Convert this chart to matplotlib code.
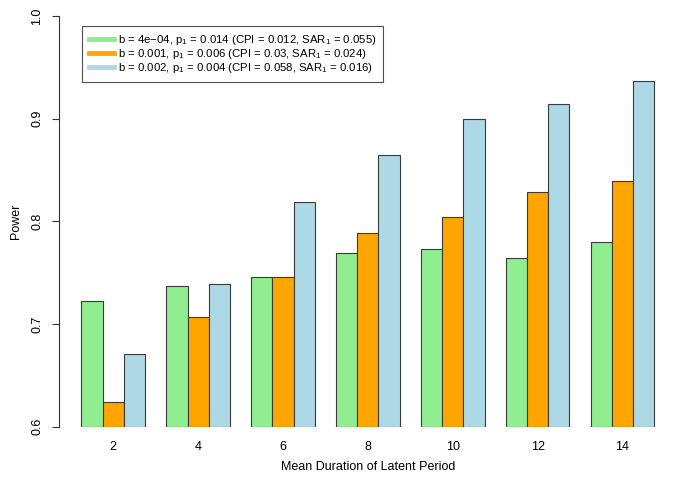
import matplotlib
matplotlib.use("Agg")
import matplotlib.pyplot as plt
from matplotlib.lines import Line2D
import numpy as np

plt.rcParams['font.family'] = ['Liberation Sans', 'DejaVu Sans']
plt.rcParams['mathtext.fontset'] = 'custom'
plt.rcParams['mathtext.rm'] = 'Liberation Sans'
plt.rcParams['mathtext.it'] = 'Liberation Sans'

durations = ["2", "4", "6", "8", "10", "12", "14"]
power_b1 = [0.722, 0.737, 0.746, 0.769, 0.773, 0.764, 0.780]
power_b2 = [0.624, 0.707, 0.746, 0.789, 0.804, 0.829, 0.839]
power_b3 = [0.671, 0.739, 0.819, 0.865, 0.900, 0.914, 0.937]
series = [power_b1, power_b2, power_b3]
labels = [
    r"b = 4e$-$04, p$_1$ = 0.014 (CPI = 0.012, SAR$_1$ = 0.055)",
    r"b = 0.001, p$_1$ = 0.006 (CPI = 0.03, SAR$_1$ = 0.024)",
    r"b = 0.002, p$_1$ = 0.004 (CPI = 0.058, SAR$_1$ = 0.016)",
]
colors = ["#90EE90", "#FFA500", "#ADD8E6"]

W, H = 678, 480
fig = plt.figure(figsize=(W / 100, H / 100), dpi=100)
ax = fig.add_axes([58.5 / W, 53.3 / H, (677.2 - 58.5) / W, (426.7 - 16) / H])

n = len(durations)
group_left = 1 + 4 * np.arange(n)
for i, vals in enumerate(series):
    ax.bar(group_left + i, np.array(vals) - 0.6, bottom=0.6, width=1.0, align='edge',
           color=colors[i], edgecolor='#3a3a3a', linewidth=0.8)

ax.set_xlim(-0.08, 29.08)
ax.set_ylim(0.6, 1.0)
for s in ['top', 'right', 'bottom']:
    ax.spines[s].set_visible(False)
ax.spines['left'].set_color('#333333')
ax.spines['left'].set_linewidth(0.8)
ax.set_yticks([0.6, 0.7, 0.8, 0.9, 1.0])
ax.set_yticklabels(["0.6", "0.7", "0.8", "0.9", "1.0"], rotation=90, va='center')
ax.tick_params(axis='y', length=5, width=0.8, color='#333333', labelsize=9, pad=6)
ax.set_xticks(group_left + 1.5)
ax.set_xticklabels(durations)
ax.tick_params(axis='x', length=0, labelsize=9, pad=10.5)
ax.set_xlabel("Mean Duration of Latent Period", fontsize=9, labelpad=5.5)
ax.set_ylabel("Power", fontsize=9, labelpad=7)

handles = [Line2D([0], [0], color=c, lw=3.5) for c in colors]
leg = ax.legend(handles, labels, loc='upper left',
                bbox_to_anchor=(81.7 / W, 1 - 26 / H), bbox_transform=fig.transFigure,
                borderaxespad=0, fontsize=8.2, frameon=True, fancybox=False,
                handlelength=2.2, handletextpad=0.35, labelspacing=0.0,
                borderpad=0.6)
leg.get_frame().set_edgecolor('#222222')
leg.get_frame().set_linewidth(0.8)

fig.savefig("out.png", dpi=100)
